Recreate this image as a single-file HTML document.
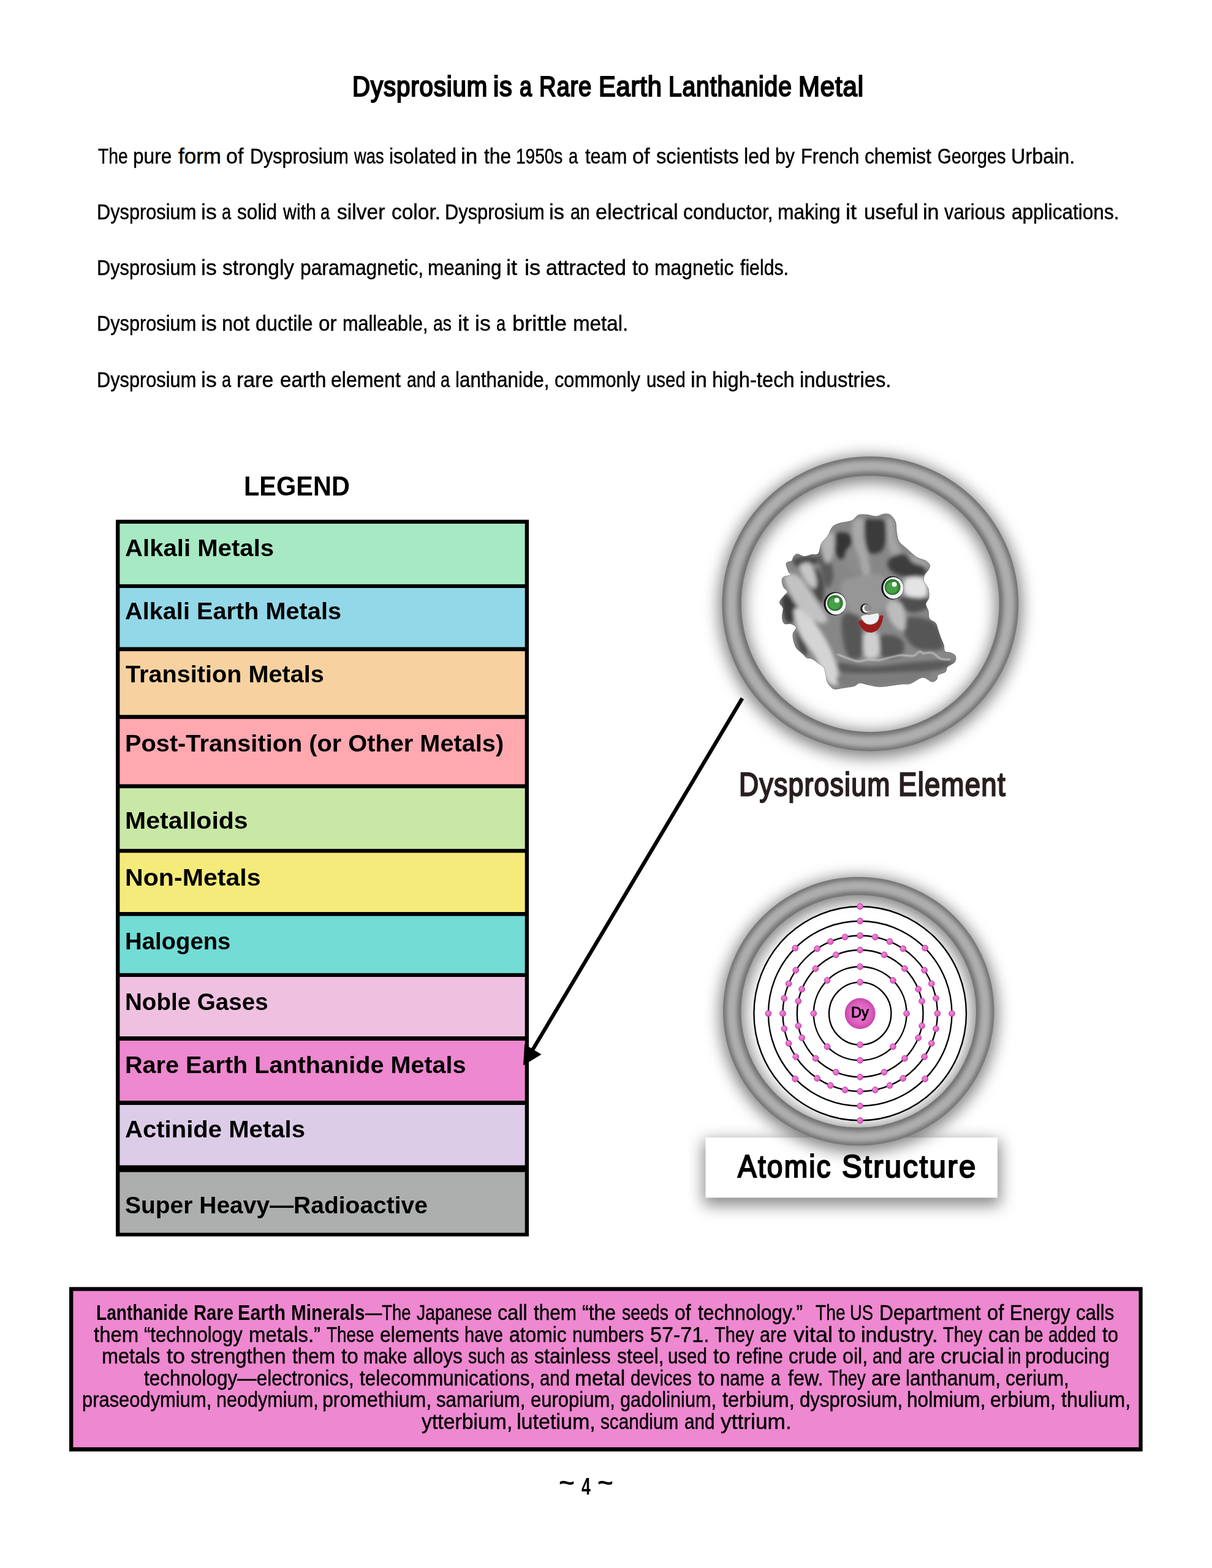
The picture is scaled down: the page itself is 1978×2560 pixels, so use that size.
<!DOCTYPE html>
<html lang="en">
<head>
<meta charset="utf-8">
<title>Dysprosium is a Rare Earth Lanthanide Metal</title>
<style>
html,body{margin:0;padding:0;background:#fff}
body{width:1978px;height:2560px;position:relative;overflow:hidden;font-family:"Liberation Sans", sans-serif;color:#000}
svg.g{position:absolute;left:0;top:0}
.t,.ln{position:absolute;margin:0;white-space:nowrap;line-height:1;font-weight:400}
.t{transform-origin:0 0}
.ln{left:0;width:1978px;height:1em}
.ln span{position:absolute;top:0;transform-origin:0 0}
</style>
</head>
<body>
<svg class="g" width="1978" height="2560" viewBox="0 0 1978 2560">
<rect x="189.0" y="848.6" width="674.1" height="1170.0" fill="#000"/>
<rect x="195.4" y="855.0" width="661.3" height="98.9" fill="#a6e9c3"/>
<rect x="195.4" y="960.0" width="661.3" height="96.5" fill="#93d8e8"/>
<rect x="195.4" y="1063.2" width="661.3" height="104.0" fill="#f7d2a0"/>
<rect x="195.4" y="1173.8" width="661.3" height="106.6" fill="#ffa8b0"/>
<rect x="195.4" y="1287.0" width="661.3" height="98.9" fill="#c9e8a6"/>
<rect x="195.4" y="1392.3" width="661.3" height="96.7" fill="#f5eb7a"/>
<rect x="195.4" y="1495.5" width="661.3" height="93.3" fill="#72dcd5"/>
<rect x="195.4" y="1595.0" width="661.3" height="97.0" fill="#efc0e0"/>
<rect x="195.4" y="1699.0" width="661.3" height="98.0" fill="#ee88d0"/>
<rect x="195.4" y="1804.0" width="661.3" height="98.5" fill="#ddcce8"/>
<rect x="195.4" y="1913.6" width="661.3" height="99.1" fill="#adafae"/>
<rect x="113" y="2101.3" width="1751.7" height="268.4" fill="#000"/>
<rect x="119.4" y="2107.7" width="1739.1" height="255.2" fill="#ee88d0"/>
<defs>
<filter id="b16" x="-30%" y="-30%" width="160%" height="160%"><feGaussianBlur stdDeviation="13"/></filter>
<filter id="b4" x="-30%" y="-30%" width="160%" height="160%"><feGaussianBlur stdDeviation="3.6"/></filter>
<filter id="rb" x="-10%" y="-10%" width="120%" height="120%"><feGaussianBlur stdDeviation="4"/></filter>
<filter id="rblob" x="-20%" y="-20%" width="140%" height="140%"><feGaussianBlur stdDeviation="3.2"/></filter>
<filter id="b1" x="-20%" y="-50%" width="140%" height="200%"><feGaussianBlur stdDeviation="0.8"/></filter>
<filter id="bs" x="-20%" y="-60%" width="140%" height="220%"><feGaussianBlur stdDeviation="13"/></filter>
<radialGradient id="eg" cx="40%" cy="35%" r="70%"><stop offset="0" stop-color="#f58ade"/><stop offset="1" stop-color="#d452b8"/></radialGradient>
<radialGradient id="ng" cx="50%" cy="50%" r="50%"><stop offset="0" stop-color="#ee7fd2"/><stop offset="0.7" stop-color="#dd60c0"/><stop offset="1" stop-color="#c845aa"/></radialGradient>
</defs>
<line x1="1211.4" y1="1140.2" x2="868" y2="1716" stroke="#000" stroke-width="6.2"/>
<polygon points="853.9,1739.6 883.6,1721.4 856.1,1704.8" fill="#000"/>
<ellipse cx="1420.3" cy="990.9" rx="226.2" ry="224.8" fill="none" stroke="#000" stroke-opacity="0.5" stroke-width="41.5" filter="url(#b16)"/>
<ellipse cx="1420.3" cy="985.9" rx="226.2" ry="224.8" fill="none" stroke="#727272" stroke-width="31.5"/>
<ellipse cx="1420.3" cy="985.9" rx="226.8" ry="225.3" fill="none" stroke="#aeaeae" stroke-width="18.9" filter="url(#b4)"/>
<clipPath id="rc"><path d="M1401.0 841.0C1396.8 842.6 1395.0 848.0 1390.0 850.2C1385.0 852.4 1376.0 852.5 1370.8 854.2C1365.6 855.9 1362.1 856.7 1358.8 860.2C1355.5 863.7 1353.7 870.8 1350.7 875.3C1347.7 879.8 1343.1 882.7 1340.6 887.4C1338.1 892.1 1338.3 900.6 1335.6 903.6C1332.9 906.6 1328.4 904.8 1324.5 905.6C1320.6 906.4 1316.3 908.8 1312.4 908.6C1308.5 908.4 1304.2 904.6 1301.3 904.6C1298.4 904.6 1296.8 906.8 1295.3 908.6C1293.8 910.5 1294.2 913.9 1292.2 915.7C1290.2 917.6 1284.0 916.7 1283.2 919.7C1282.4 922.7 1286.0 930.6 1287.2 933.8C1288.4 937.0 1291.6 937.4 1290.2 938.8C1288.8 940.1 1281.4 940.4 1279.1 941.9C1276.8 943.4 1276.1 945.0 1276.1 947.9C1276.1 950.8 1277.6 956.0 1279.1 959.0C1280.6 962.0 1285.0 963.8 1285.2 966.0C1285.4 968.2 1282.2 969.6 1280.2 972.1C1278.2 974.6 1274.3 978.9 1273.1 981.2C1271.9 983.5 1272.3 984.0 1273.1 986.0C1273.9 988.0 1277.5 989.4 1278.1 993.1C1278.7 996.8 1276.2 1004.0 1276.6 1008.2C1276.9 1012.4 1277.9 1016.6 1280.2 1018.3C1282.5 1020.0 1287.0 1017.3 1290.2 1018.3C1293.4 1019.3 1298.6 1021.6 1299.3 1024.3C1300.0 1027.0 1295.0 1030.7 1294.3 1034.4C1293.6 1038.1 1294.3 1042.5 1295.3 1046.5C1296.3 1050.5 1297.8 1055.1 1300.3 1058.6C1302.8 1062.1 1307.7 1065.2 1310.4 1067.7C1313.1 1070.2 1313.9 1072.4 1316.4 1073.7C1318.9 1075.0 1322.3 1074.2 1325.5 1075.7C1328.7 1077.2 1332.4 1080.5 1335.6 1082.8C1338.8 1085.1 1342.6 1086.8 1344.6 1089.8C1346.6 1092.8 1346.8 1097.2 1347.7 1100.9C1348.6 1104.6 1348.4 1108.6 1349.7 1112.0C1351.0 1115.4 1353.5 1118.9 1355.7 1121.1C1357.9 1123.3 1359.4 1124.8 1362.8 1125.1C1366.2 1125.4 1370.7 1123.9 1375.9 1123.1C1381.1 1122.3 1389.5 1121.4 1394.0 1120.1C1398.5 1118.8 1399.2 1115.3 1403.1 1115.0C1407.0 1114.7 1411.5 1117.1 1417.2 1118.1C1422.9 1119.1 1428.3 1121.3 1437.2 1121.1C1446.1 1120.9 1462.4 1117.8 1470.5 1117.0C1478.6 1116.2 1479.7 1117.8 1485.6 1116.0C1491.5 1114.2 1499.8 1106.5 1505.7 1106.0C1511.6 1105.5 1516.9 1112.5 1520.8 1113.0C1524.7 1113.5 1527.2 1110.8 1528.9 1109.0C1530.6 1107.2 1528.6 1103.9 1530.9 1101.9C1533.2 1099.9 1540.5 1099.1 1543.0 1096.9C1545.5 1094.7 1543.5 1091.5 1546.0 1088.8C1548.5 1086.1 1555.9 1083.8 1558.1 1080.8C1560.3 1077.8 1560.3 1073.2 1559.1 1070.7C1557.9 1068.2 1553.9 1066.9 1551.1 1065.7C1548.2 1064.5 1543.8 1065.8 1542.0 1063.6C1540.2 1061.4 1541.2 1056.4 1540.0 1052.6C1538.8 1048.8 1536.5 1044.5 1535.0 1040.5C1533.5 1036.5 1532.2 1032.3 1530.9 1028.4C1529.6 1024.5 1529.2 1020.3 1526.9 1017.3C1524.6 1014.3 1518.8 1013.6 1516.8 1010.2C1514.8 1006.8 1515.8 1001.1 1514.8 997.1C1513.8 993.1 1510.6 989.5 1510.8 986.0C1511.0 982.5 1515.1 980.3 1515.8 976.1C1516.5 971.9 1516.1 965.5 1514.8 961.0C1513.5 956.5 1508.7 952.6 1507.7 948.9C1506.7 945.2 1507.6 941.8 1508.8 938.8C1510.0 935.8 1513.4 933.5 1514.8 930.8C1516.2 928.1 1518.0 925.2 1517.3 922.7C1516.6 920.2 1514.4 917.9 1510.8 915.7C1507.2 913.5 1500.8 912.8 1495.7 909.6C1490.7 906.4 1485.2 900.7 1480.5 896.5C1475.8 892.3 1470.2 888.8 1467.4 884.4C1464.6 880.0 1464.4 875.7 1463.4 870.3C1462.4 864.9 1463.1 857.1 1461.4 852.2C1459.7 847.3 1456.3 843.3 1453.3 841.1C1450.3 838.9 1447.1 838.8 1443.3 839.1C1439.5 839.4 1434.9 842.9 1430.2 843.1C1425.5 843.3 1419.9 840.9 1415.0 840.5C1410.1 840.1 1405.2 839.4 1401.0 841.0Z"/></clipPath>
<path d="M1401.0 841.0C1396.8 842.6 1395.0 848.0 1390.0 850.2C1385.0 852.4 1376.0 852.5 1370.8 854.2C1365.6 855.9 1362.1 856.7 1358.8 860.2C1355.5 863.7 1353.7 870.8 1350.7 875.3C1347.7 879.8 1343.1 882.7 1340.6 887.4C1338.1 892.1 1338.3 900.6 1335.6 903.6C1332.9 906.6 1328.4 904.8 1324.5 905.6C1320.6 906.4 1316.3 908.8 1312.4 908.6C1308.5 908.4 1304.2 904.6 1301.3 904.6C1298.4 904.6 1296.8 906.8 1295.3 908.6C1293.8 910.5 1294.2 913.9 1292.2 915.7C1290.2 917.6 1284.0 916.7 1283.2 919.7C1282.4 922.7 1286.0 930.6 1287.2 933.8C1288.4 937.0 1291.6 937.4 1290.2 938.8C1288.8 940.1 1281.4 940.4 1279.1 941.9C1276.8 943.4 1276.1 945.0 1276.1 947.9C1276.1 950.8 1277.6 956.0 1279.1 959.0C1280.6 962.0 1285.0 963.8 1285.2 966.0C1285.4 968.2 1282.2 969.6 1280.2 972.1C1278.2 974.6 1274.3 978.9 1273.1 981.2C1271.9 983.5 1272.3 984.0 1273.1 986.0C1273.9 988.0 1277.5 989.4 1278.1 993.1C1278.7 996.8 1276.2 1004.0 1276.6 1008.2C1276.9 1012.4 1277.9 1016.6 1280.2 1018.3C1282.5 1020.0 1287.0 1017.3 1290.2 1018.3C1293.4 1019.3 1298.6 1021.6 1299.3 1024.3C1300.0 1027.0 1295.0 1030.7 1294.3 1034.4C1293.6 1038.1 1294.3 1042.5 1295.3 1046.5C1296.3 1050.5 1297.8 1055.1 1300.3 1058.6C1302.8 1062.1 1307.7 1065.2 1310.4 1067.7C1313.1 1070.2 1313.9 1072.4 1316.4 1073.7C1318.9 1075.0 1322.3 1074.2 1325.5 1075.7C1328.7 1077.2 1332.4 1080.5 1335.6 1082.8C1338.8 1085.1 1342.6 1086.8 1344.6 1089.8C1346.6 1092.8 1346.8 1097.2 1347.7 1100.9C1348.6 1104.6 1348.4 1108.6 1349.7 1112.0C1351.0 1115.4 1353.5 1118.9 1355.7 1121.1C1357.9 1123.3 1359.4 1124.8 1362.8 1125.1C1366.2 1125.4 1370.7 1123.9 1375.9 1123.1C1381.1 1122.3 1389.5 1121.4 1394.0 1120.1C1398.5 1118.8 1399.2 1115.3 1403.1 1115.0C1407.0 1114.7 1411.5 1117.1 1417.2 1118.1C1422.9 1119.1 1428.3 1121.3 1437.2 1121.1C1446.1 1120.9 1462.4 1117.8 1470.5 1117.0C1478.6 1116.2 1479.7 1117.8 1485.6 1116.0C1491.5 1114.2 1499.8 1106.5 1505.7 1106.0C1511.6 1105.5 1516.9 1112.5 1520.8 1113.0C1524.7 1113.5 1527.2 1110.8 1528.9 1109.0C1530.6 1107.2 1528.6 1103.9 1530.9 1101.9C1533.2 1099.9 1540.5 1099.1 1543.0 1096.9C1545.5 1094.7 1543.5 1091.5 1546.0 1088.8C1548.5 1086.1 1555.9 1083.8 1558.1 1080.8C1560.3 1077.8 1560.3 1073.2 1559.1 1070.7C1557.9 1068.2 1553.9 1066.9 1551.1 1065.7C1548.2 1064.5 1543.8 1065.8 1542.0 1063.6C1540.2 1061.4 1541.2 1056.4 1540.0 1052.6C1538.8 1048.8 1536.5 1044.5 1535.0 1040.5C1533.5 1036.5 1532.2 1032.3 1530.9 1028.4C1529.6 1024.5 1529.2 1020.3 1526.9 1017.3C1524.6 1014.3 1518.8 1013.6 1516.8 1010.2C1514.8 1006.8 1515.8 1001.1 1514.8 997.1C1513.8 993.1 1510.6 989.5 1510.8 986.0C1511.0 982.5 1515.1 980.3 1515.8 976.1C1516.5 971.9 1516.1 965.5 1514.8 961.0C1513.5 956.5 1508.7 952.6 1507.7 948.9C1506.7 945.2 1507.6 941.8 1508.8 938.8C1510.0 935.8 1513.4 933.5 1514.8 930.8C1516.2 928.1 1518.0 925.2 1517.3 922.7C1516.6 920.2 1514.4 917.9 1510.8 915.7C1507.2 913.5 1500.8 912.8 1495.7 909.6C1490.7 906.4 1485.2 900.7 1480.5 896.5C1475.8 892.3 1470.2 888.8 1467.4 884.4C1464.6 880.0 1464.4 875.7 1463.4 870.3C1462.4 864.9 1463.1 857.1 1461.4 852.2C1459.7 847.3 1456.3 843.3 1453.3 841.1C1450.3 838.9 1447.1 838.8 1443.3 839.1C1439.5 839.4 1434.9 842.9 1430.2 843.1C1425.5 843.3 1419.9 840.9 1415.0 840.5C1410.1 840.1 1405.2 839.4 1401.0 841.0Z" fill="#878787" stroke="#6e6e6e" stroke-width="1"/>
<g clip-path="url(#rc)"><g filter="url(#rblob)">
<path d="M1366.0 870.0C1370.2 867.7 1382.0 869.3 1386.0 872.0C1390.0 874.7 1390.8 881.3 1390.0 886.0C1389.2 890.7 1382.8 896.0 1381.0 900.0C1379.2 904.0 1380.7 907.8 1379.0 910.0C1377.3 912.2 1373.7 914.3 1371.0 913.0C1368.3 911.7 1364.7 906.5 1363.0 902.0C1361.3 897.5 1360.5 891.3 1361.0 886.0C1361.5 880.7 1361.8 872.3 1366.0 870.0Z" fill="#363636"/>
<path d="M1412.0 850.0C1415.0 844.7 1422.5 847.7 1428.0 848.0C1433.5 848.3 1442.0 846.7 1445.0 852.0C1448.0 857.3 1446.8 872.3 1446.0 880.0C1445.2 887.7 1443.0 894.0 1440.0 898.0C1437.0 902.0 1432.0 903.7 1428.0 904.0C1424.0 904.3 1419.0 904.0 1416.0 900.0C1413.0 896.0 1410.7 888.3 1410.0 880.0C1409.3 871.7 1409.0 855.3 1412.0 850.0Z" fill="#3a3a3a"/>
<path d="M1450.0 915.0C1453.0 910.8 1461.7 904.5 1470.0 905.0C1478.3 905.5 1493.0 913.0 1500.0 918.0C1507.0 923.0 1512.0 931.0 1512.0 935.0C1512.0 939.0 1507.0 941.2 1500.0 942.0C1493.0 942.8 1478.0 942.0 1470.0 940.0C1462.0 938.0 1455.3 934.2 1452.0 930.0C1448.7 925.8 1447.0 919.2 1450.0 915.0Z" fill="#3c3c3c"/>
<path d="M1470.0 975.0C1477.0 972.5 1504.7 972.2 1512.0 975.0C1519.3 977.8 1517.7 987.8 1514.0 992.0C1510.3 996.2 1497.3 1000.3 1490.0 1000.0C1482.7 999.7 1473.3 994.2 1470.0 990.0C1466.7 985.8 1463.0 977.5 1470.0 975.0Z" fill="#505050"/>
<path d="M1475.0 1012.0C1478.7 1006.7 1491.2 1006.7 1500.0 1008.0C1508.8 1009.3 1521.3 1012.2 1528.0 1020.0C1534.7 1027.8 1541.3 1048.0 1540.0 1055.0C1538.7 1062.0 1527.5 1061.5 1520.0 1062.0C1512.5 1062.5 1502.0 1061.7 1495.0 1058.0C1488.0 1054.3 1481.3 1047.7 1478.0 1040.0C1474.7 1032.3 1471.3 1017.3 1475.0 1012.0Z" fill="#565656"/>
<path d="M1435.0 1040.0C1438.3 1034.3 1453.3 1036.3 1460.0 1038.0C1466.7 1039.7 1473.3 1044.7 1475.0 1050.0C1476.7 1055.3 1475.8 1066.3 1470.0 1070.0C1464.2 1073.7 1445.8 1077.0 1440.0 1072.0C1434.2 1067.0 1431.7 1045.7 1435.0 1040.0Z" fill="#555555"/>
<path d="M1376.0 1005.0C1380.2 999.2 1394.7 999.2 1400.0 1005.0C1405.3 1010.8 1407.2 1028.8 1408.0 1040.0C1408.8 1051.2 1408.8 1066.7 1405.0 1072.0C1401.2 1077.3 1390.0 1077.3 1385.0 1072.0C1380.0 1066.7 1376.5 1051.2 1375.0 1040.0C1373.5 1028.8 1371.8 1010.8 1376.0 1005.0Z" fill="#565656"/>
<path d="M1285.0 985.0C1285.0 980.8 1292.5 980.0 1300.0 985.0C1307.5 990.0 1323.7 1006.7 1330.0 1015.0C1336.3 1023.3 1338.8 1032.5 1338.0 1035.0C1337.2 1037.5 1331.3 1034.2 1325.0 1030.0C1318.7 1025.8 1306.7 1017.5 1300.0 1010.0C1293.3 1002.5 1285.0 989.2 1285.0 985.0Z" fill="#3e3e3e"/>
<path d="M1276.0 975.0C1277.7 968.5 1288.7 968.8 1292.0 975.0C1295.3 981.2 1297.7 1005.5 1296.0 1012.0C1294.3 1018.5 1285.3 1020.2 1282.0 1014.0C1278.7 1007.8 1274.3 981.5 1276.0 975.0Z" fill="#3a3a3a"/>
<path d="M1300.0 1030.0C1301.2 1026.3 1309.0 1033.7 1312.0 1040.0C1315.0 1046.3 1319.2 1064.3 1318.0 1068.0C1316.8 1071.7 1308.0 1068.3 1305.0 1062.0C1302.0 1055.7 1298.8 1033.7 1300.0 1030.0Z" fill="#4a4a4a"/>
<path d="M1368.0 1082.0C1376.3 1080.7 1401.3 1088.0 1420.0 1088.0C1438.7 1088.0 1460.0 1083.7 1480.0 1082.0C1500.0 1080.3 1527.3 1078.0 1540.0 1078.0C1552.7 1078.0 1557.7 1079.3 1556.0 1082.0C1554.3 1084.7 1544.3 1091.3 1530.0 1094.0C1515.7 1096.7 1491.7 1097.0 1470.0 1098.0C1448.3 1099.0 1416.7 1100.3 1400.0 1100.0C1383.3 1099.7 1375.3 1099.0 1370.0 1096.0C1364.7 1093.0 1359.7 1083.3 1368.0 1082.0Z" fill="#5a5a5a"/>
<path d="M1296.0 912.0C1300.2 909.2 1318.0 907.5 1325.0 908.0C1332.0 908.5 1338.8 912.2 1338.0 915.0C1337.2 917.8 1326.3 923.3 1320.0 925.0C1313.7 926.7 1304.0 927.2 1300.0 925.0C1296.0 922.8 1291.8 914.8 1296.0 912.0Z" fill="#4a4a4a"/>
<path d="M1318.0 935.0C1319.7 930.0 1330.5 925.8 1335.0 930.0C1339.5 934.2 1344.2 950.8 1345.0 960.0C1345.8 969.2 1343.3 985.0 1340.0 985.0C1336.7 985.0 1328.7 968.3 1325.0 960.0C1321.3 951.7 1316.3 940.0 1318.0 935.0Z" fill="#484848"/>
<path d="M1335.0 895.0C1336.7 890.0 1345.8 892.5 1350.0 900.0C1354.2 907.5 1360.0 930.0 1360.0 940.0C1360.0 950.0 1353.3 961.7 1350.0 960.0C1346.7 958.3 1342.5 940.8 1340.0 930.0C1337.5 919.2 1333.3 900.0 1335.0 895.0Z" fill="#5a5a5a"/>
<path d="M1296.0 996.0C1297.7 990.0 1308.0 993.0 1316.0 1000.0C1324.0 1007.0 1336.0 1024.3 1344.0 1038.0C1352.0 1051.7 1360.0 1069.0 1364.0 1082.0C1368.0 1095.0 1370.3 1111.0 1368.0 1116.0C1365.7 1121.0 1356.3 1119.3 1350.0 1112.0C1343.7 1104.7 1337.3 1084.7 1330.0 1072.0C1322.7 1059.3 1311.7 1048.7 1306.0 1036.0C1300.3 1023.3 1294.3 1002.0 1296.0 996.0Z" fill="#d4d4d4"/>
<path d="M1280.0 943.0C1280.0 934.7 1294.3 935.2 1302.0 940.0C1309.7 944.8 1318.0 960.3 1326.0 972.0C1334.0 983.7 1348.7 1002.7 1350.0 1010.0C1351.3 1017.3 1342.0 1019.3 1334.0 1016.0C1326.0 1012.7 1311.0 1002.2 1302.0 990.0C1293.0 977.8 1280.0 951.3 1280.0 943.0Z" fill="#c2c2c2"/>
<path d="M1305.0 925.0C1306.0 920.0 1317.5 916.7 1322.0 920.0C1326.5 923.3 1330.7 938.3 1332.0 945.0C1333.3 951.7 1332.7 959.2 1330.0 960.0C1327.3 960.8 1320.2 955.8 1316.0 950.0C1311.8 944.2 1304.0 930.0 1305.0 925.0Z" fill="#c6c6c6"/>
<path d="M1340.0 885.0C1341.7 879.2 1348.3 871.7 1352.0 870.0C1355.7 868.3 1360.7 869.2 1362.0 875.0C1363.3 880.8 1362.0 897.5 1360.0 905.0C1358.0 912.5 1353.0 920.0 1350.0 920.0C1347.0 920.0 1343.7 910.8 1342.0 905.0C1340.3 899.2 1338.3 890.8 1340.0 885.0Z" fill="#b4b4b4"/>
<path d="M1392.0 852.0C1394.7 846.7 1404.8 843.3 1408.0 848.0C1411.2 852.7 1409.7 870.5 1411.0 880.0C1412.3 889.5 1414.5 895.8 1416.0 905.0C1417.5 914.2 1421.0 929.2 1420.0 935.0C1419.0 940.8 1413.3 944.2 1410.0 940.0C1406.7 935.8 1403.0 920.0 1400.0 910.0C1397.0 900.0 1393.3 889.7 1392.0 880.0C1390.7 870.3 1389.3 857.3 1392.0 852.0Z" fill="#a8a8a8"/>
<path d="M1380.0 905.0C1382.0 900.0 1390.8 891.7 1395.0 895.0C1399.2 898.3 1405.0 918.3 1405.0 925.0C1405.0 931.7 1398.7 935.0 1395.0 935.0C1391.3 935.0 1385.5 930.0 1383.0 925.0C1380.5 920.0 1378.0 910.0 1380.0 905.0Z" fill="#8c8c8c"/>
<path d="M1447.0 848.0C1448.7 843.0 1455.5 844.7 1458.0 850.0C1460.5 855.3 1460.0 871.7 1462.0 880.0C1464.0 888.3 1471.2 895.8 1470.0 900.0C1468.8 904.2 1458.7 908.3 1455.0 905.0C1451.3 901.7 1449.3 889.5 1448.0 880.0C1446.7 870.5 1445.3 853.0 1447.0 848.0Z" fill="#a4a4a4"/>
<path d="M1478.0 945.0C1483.3 941.2 1502.3 940.5 1508.0 945.0C1513.7 949.5 1515.0 967.0 1512.0 972.0C1509.0 977.0 1496.0 975.7 1490.0 975.0C1484.0 974.3 1478.0 973.0 1476.0 968.0C1474.0 963.0 1472.7 948.8 1478.0 945.0Z" fill="#e4e4e4"/>
<path d="M1411.0 1034.0C1414.3 1027.7 1428.2 1028.0 1432.0 1034.0C1435.8 1040.0 1437.3 1063.7 1434.0 1070.0C1430.7 1076.3 1415.8 1078.0 1412.0 1072.0C1408.2 1066.0 1407.7 1040.3 1411.0 1034.0Z" fill="#cfcfcf"/>
<path d="M1446.0 982.0C1449.7 979.5 1464.7 980.3 1470.0 985.0C1475.3 989.7 1477.3 1002.5 1478.0 1010.0C1478.7 1017.5 1477.3 1028.3 1474.0 1030.0C1470.7 1031.7 1462.3 1025.0 1458.0 1020.0C1453.7 1015.0 1450.0 1006.3 1448.0 1000.0C1446.0 993.7 1442.3 984.5 1446.0 982.0Z" fill="#bcbcbc"/>
<path d="M1485.0 905.0C1488.7 905.0 1506.8 914.7 1512.0 918.0C1517.2 921.3 1519.7 925.0 1516.0 925.0C1512.3 925.0 1495.2 921.3 1490.0 918.0C1484.8 914.7 1481.3 905.0 1485.0 905.0Z" fill="#a6a6a6"/>
<path d="M1376.0 950.0C1385.7 942.0 1428.0 933.3 1440.0 940.0C1452.0 946.7 1454.7 979.3 1448.0 990.0C1441.3 1000.7 1411.0 1004.3 1400.0 1004.0C1389.0 1003.7 1386.0 997.0 1382.0 988.0C1378.0 979.0 1366.3 958.0 1376.0 950.0Z" fill="#969696"/>
<path d="M1370.0 1102.0C1377.5 1099.3 1401.7 1104.3 1420.0 1104.0C1438.3 1103.7 1463.3 1101.0 1480.0 1100.0C1496.7 1099.0 1516.7 1096.0 1520.0 1098.0C1523.3 1100.0 1513.3 1108.7 1500.0 1112.0C1486.7 1115.3 1460.8 1116.7 1440.0 1118.0C1419.2 1119.3 1386.7 1122.7 1375.0 1120.0C1363.3 1117.3 1362.5 1104.7 1370.0 1102.0Z" fill="#7c7c7c"/>
</g>
<path d="M1366.0 1068.0C1369.3 1069.3 1380.2 1073.7 1386.0 1075.7C1391.8 1077.7 1395.8 1079.6 1401.0 1079.8C1406.2 1080.0 1411.5 1077.0 1417.2 1076.7C1422.9 1076.4 1428.9 1078.4 1435.2 1077.7C1441.5 1077.0 1449.4 1074.0 1455.3 1072.7C1461.2 1071.4 1464.6 1070.0 1470.5 1069.7C1476.4 1069.4 1485.6 1071.7 1490.6 1070.7C1495.6 1069.7 1498.0 1064.3 1500.7 1063.6C1503.4 1062.9 1503.4 1066.3 1506.7 1066.7C1510.0 1067.1 1515.9 1064.2 1520.8 1065.7C1525.7 1067.2 1531.0 1073.9 1536.0 1075.7C1541.0 1077.5 1548.5 1076.5 1551.0 1076.7" fill="none" stroke="#c4c4c4" stroke-width="2.4" filter="url(#b1)"/>
</g>
<ellipse cx="1362.8" cy="985.7" rx="18.4" ry="19" fill="#111"/>
<ellipse cx="1364.2" cy="985.9" rx="16.6" ry="17.6" fill="#f4f4f8"/>
<circle cx="1362.8" cy="984.5" r="13" fill="#327c32"/>
<circle cx="1362.2" cy="985.3" r="9.6" fill="#46a046"/>
<circle cx="1365.8" cy="979.9" r="4" fill="#fff"/>
<ellipse cx="1456.6" cy="959.7" rx="18.4" ry="19" fill="#111"/>
<ellipse cx="1458.0" cy="959.9" rx="16.6" ry="17.6" fill="#f4f4f8"/>
<circle cx="1456.6" cy="958.5" r="13" fill="#327c32"/>
<circle cx="1456.0" cy="959.3" r="9.6" fill="#46a046"/>
<circle cx="1459.6" cy="953.9" r="4" fill="#fff"/>
<circle cx="1412.2" cy="993.6" r="8.2" fill="#222"/><circle cx="1414" cy="993.6" r="6.8" fill="#ececec"/><circle cx="1416.6" cy="992.6" r="6" fill="#8c8c8c"/>
<path d="M1405 1007 Q1410 1003 1418 1004 L1433 1001 Q1436 1006 1432 1014 Q1425 1021 1416 1019 Q1408 1016 1405 1007Z" fill="#eef1f4"/>
<path d="M1400.5 1015.5 Q1409 1035 1424 1032.5 Q1439 1029 1441.5 1005.5 Q1439 1003.5 1435.5 1006 Q1433.5 1019 1421.5 1020 Q1412 1020.5 1407.5 1012.5 Q1403 1012 1400.5 1015.5 Z" fill="#9e1b1b"/>
<rect x="1148" y="1862" width="484" height="106" fill="#000" fill-opacity="0.46" filter="url(#bs)"/>
<rect x="1151.5" y="1857.2" width="476.4" height="98.2" fill="#fff"/>
<ellipse cx="1401.25" cy="1656.05" rx="206.5" ry="204.5" fill="none" stroke="#000" stroke-opacity="0.5" stroke-width="39.5" filter="url(#b16)"/>
<ellipse cx="1401.25" cy="1651.05" rx="206.5" ry="204.5" fill="none" stroke="#727272" stroke-width="29.5"/>
<ellipse cx="1401.25" cy="1651.05" rx="207.0" ry="205.0" fill="none" stroke="#aeaeae" stroke-width="17.7" filter="url(#b4)"/>
<g transform="translate(1403.7 1654.7) scale(0.992 1) translate(-1403.7 -1654.7)">
<circle cx="1403.7" cy="1654.7" r="175.5" fill="#fff" fill-opacity="0.9"/>
<g fill="none" stroke="#000" stroke-width="2.4">
<circle cx="1403.7" cy="1654.7" r="51.1"/>
<circle cx="1403.7" cy="1654.7" r="76.5"/>
<circle cx="1403.7" cy="1654.7" r="103.7"/>
<circle cx="1403.7" cy="1654.7" r="127.2"/>
<circle cx="1403.7" cy="1654.7" r="151.0"/>
<circle cx="1403.7" cy="1654.7" r="174.7"/>
</g>
<g fill="url(#eg)" stroke="#b4409c" stroke-width="1"><circle cx="1403.7" cy="1603.6" r="4.9"/><circle cx="1403.7" cy="1705.8" r="4.9"/><circle cx="1403.7" cy="1578.2" r="4.9"/><circle cx="1457.8" cy="1600.6" r="4.9"/><circle cx="1480.2" cy="1654.7" r="4.9"/><circle cx="1457.8" cy="1708.8" r="4.9"/><circle cx="1403.7" cy="1731.2" r="4.9"/><circle cx="1349.6" cy="1708.8" r="4.9"/><circle cx="1327.2" cy="1654.7" r="4.9"/><circle cx="1349.6" cy="1600.6" r="4.9"/><circle cx="1403.7" cy="1551.0" r="4.9"/><circle cx="1403.7" cy="1758.4" r="4.9"/><circle cx="1443.4" cy="1558.9" r="4.9"/><circle cx="1477.0" cy="1581.4" r="4.9"/><circle cx="1499.5" cy="1615.0" r="4.9"/><circle cx="1505.4" cy="1634.5" r="4.9"/><circle cx="1505.4" cy="1674.9" r="4.9"/><circle cx="1499.5" cy="1694.4" r="4.9"/><circle cx="1477.0" cy="1728.0" r="4.9"/><circle cx="1443.4" cy="1750.5" r="4.9"/><circle cx="1364.0" cy="1558.9" r="4.9"/><circle cx="1330.4" cy="1581.4" r="4.9"/><circle cx="1307.9" cy="1615.0" r="4.9"/><circle cx="1302.0" cy="1634.5" r="4.9"/><circle cx="1302.0" cy="1674.9" r="4.9"/><circle cx="1307.9" cy="1694.4" r="4.9"/><circle cx="1330.4" cy="1728.0" r="4.9"/><circle cx="1364.0" cy="1750.5" r="4.9"/><circle cx="1333.0" cy="1548.9" r="4.9"/><circle cx="1355.0" cy="1537.2" r="4.9"/><circle cx="1378.9" cy="1529.9" r="4.9"/><circle cx="1403.7" cy="1527.5" r="4.9"/><circle cx="1428.5" cy="1529.9" r="4.9"/><circle cx="1452.4" cy="1537.2" r="4.9"/><circle cx="1474.4" cy="1548.9" r="4.9"/><circle cx="1509.5" cy="1584.0" r="4.9"/><circle cx="1521.2" cy="1606.0" r="4.9"/><circle cx="1528.5" cy="1629.9" r="4.9"/><circle cx="1530.9" cy="1654.7" r="4.9"/><circle cx="1528.5" cy="1679.5" r="4.9"/><circle cx="1521.2" cy="1703.4" r="4.9"/><circle cx="1509.5" cy="1725.4" r="4.9"/><circle cx="1474.4" cy="1760.5" r="4.9"/><circle cx="1452.4" cy="1772.2" r="4.9"/><circle cx="1428.5" cy="1779.5" r="4.9"/><circle cx="1403.7" cy="1781.9" r="4.9"/><circle cx="1378.9" cy="1779.5" r="4.9"/><circle cx="1355.0" cy="1772.2" r="4.9"/><circle cx="1333.0" cy="1760.5" r="4.9"/><circle cx="1297.9" cy="1725.4" r="4.9"/><circle cx="1286.2" cy="1703.4" r="4.9"/><circle cx="1278.9" cy="1679.5" r="4.9"/><circle cx="1276.5" cy="1654.7" r="4.9"/><circle cx="1278.9" cy="1629.9" r="4.9"/><circle cx="1286.2" cy="1606.0" r="4.9"/><circle cx="1297.9" cy="1584.0" r="4.9"/><circle cx="1403.7" cy="1503.7" r="4.9"/><circle cx="1510.5" cy="1547.9" r="4.9"/><circle cx="1554.7" cy="1654.7" r="4.9"/><circle cx="1510.5" cy="1761.5" r="4.9"/><circle cx="1403.7" cy="1805.7" r="4.9"/><circle cx="1296.9" cy="1761.5" r="4.9"/><circle cx="1252.7" cy="1654.7" r="4.9"/><circle cx="1296.9" cy="1547.9" r="4.9"/><circle cx="1403.7" cy="1480.0" r="4.9"/><circle cx="1403.7" cy="1829.4" r="4.9"/></g>
<circle cx="1403.7" cy="1654.7" r="25.2" fill="url(#ng)"/>
</g>
</svg>
<h1 class="ln" style="top:117.6px;font-size:46px"><span style="left:575.4px;transform:scaleX(0.8745);letter-spacing:1px;-webkit-text-stroke:2.2px #000">Dysprosium</span> <span style="left:805.4px;transform:scaleX(0.9003);letter-spacing:1px;-webkit-text-stroke:2.2px #000">is</span> <span style="left:848.1px;transform:scaleX(0.7800);letter-spacing:1px;-webkit-text-stroke:2.2px #000">a</span> <span style="left:880.2px;transform:scaleX(0.8293);letter-spacing:1px;-webkit-text-stroke:2.2px #000">Rare</span> <span style="left:977.0px;transform:scaleX(0.9029);letter-spacing:1px;-webkit-text-stroke:2.2px #000">Earth</span> <span style="left:1091.2px;transform:scaleX(0.8487);letter-spacing:1px;-webkit-text-stroke:2.2px #000">Lanthanide</span> <span style="left:1303.0px;transform:scaleX(0.9107);letter-spacing:1px;-webkit-text-stroke:2.2px #000">Metal</span></h1>
<p class="ln" style="top:236.6px;font-size:35px"><span style="left:160.2px;transform:scaleX(0.8068);-webkit-text-stroke:0.5px #000">The</span> <span style="left:217.0px;transform:scaleX(0.9030);-webkit-text-stroke:0.5px #000">pure</span> <span style="left:291.0px;transform:scaleX(1.0000);-webkit-text-stroke:0.5px #000">form</span> <span style="left:369.0px;transform:scaleX(0.9718);-webkit-text-stroke:0.5px #000">of</span> <span style="left:407.6px;transform:scaleX(0.8711);-webkit-text-stroke:0.5px #000">Dysprosium</span> <span style="left:577.6px;transform:scaleX(0.7800);-webkit-text-stroke:0.5px #000">was</span> <span style="left:634.8px;transform:scaleX(0.9120);-webkit-text-stroke:0.5px #000">isolated</span> <span style="left:752.4px;transform:scaleX(1.0048);-webkit-text-stroke:0.5px #000">in</span> <span style="left:790.2px;transform:scaleX(0.9085);-webkit-text-stroke:0.5px #000">the</span> <span style="left:841.8px;transform:scaleX(0.8011);-webkit-text-stroke:0.5px #000">1950s</span> <span style="left:927.8px;transform:scaleX(0.7800);-webkit-text-stroke:0.5px #000">a</span> <span style="left:954.8px;transform:scaleX(0.8763);-webkit-text-stroke:0.5px #000">team</span> <span style="left:1032.4px;transform:scaleX(0.9730);-webkit-text-stroke:0.5px #000">of</span> <span style="left:1071.0px;transform:scaleX(0.9352);-webkit-text-stroke:0.5px #000">scientists</span> <span style="left:1214.4px;transform:scaleX(0.9210);-webkit-text-stroke:0.5px #000">led</span> <span style="left:1265.2px;transform:scaleX(0.8657);-webkit-text-stroke:0.5px #000">by</span> <span style="left:1306.6px;transform:scaleX(0.8751);-webkit-text-stroke:0.5px #000">French</span> <span style="left:1410.6px;transform:scaleX(0.9017);-webkit-text-stroke:0.5px #000">chemist</span> <span style="left:1530.2px;transform:scaleX(0.8318);-webkit-text-stroke:0.5px #000">Georges</span> <span style="left:1649.6px;transform:scaleX(0.9250);-webkit-text-stroke:0.5px #000">Urbain.</span></p>
<p class="ln" style="top:327.9px;font-size:35px"><span style="left:158.2px;transform:scaleX(0.8783);-webkit-text-stroke:0.5px #000">Dysprosium</span> <span style="left:328.0px;transform:scaleX(1.0137);-webkit-text-stroke:0.5px #000">is</span> <span style="left:362.3px;transform:scaleX(0.7800);-webkit-text-stroke:0.5px #000">a</span> <span style="left:387.4px;transform:scaleX(0.9029);-webkit-text-stroke:0.5px #000">solid</span> <span style="left:461.8px;transform:scaleX(0.8667);-webkit-text-stroke:0.5px #000">with</span> <span style="left:523.4px;transform:scaleX(0.7800);-webkit-text-stroke:0.5px #000">a</span> <span style="left:550.2px;transform:scaleX(0.9601);-webkit-text-stroke:0.5px #000">silver</span> <span style="left:638.6px;transform:scaleX(0.9563);-webkit-text-stroke:0.5px #000">color.</span> <span style="left:725.6px;transform:scaleX(0.8811);-webkit-text-stroke:0.5px #000">Dysprosium</span> <span style="left:896.4px;transform:scaleX(0.9828);-webkit-text-stroke:0.5px #000">is</span> <span style="left:931.2px;transform:scaleX(0.8150);-webkit-text-stroke:0.5px #000">an</span> <span style="left:972.2px;transform:scaleX(0.9740);-webkit-text-stroke:0.5px #000">electrical</span> <span style="left:1115.2px;transform:scaleX(0.9083);-webkit-text-stroke:0.5px #000">conductor,</span> <span style="left:1269.0px;transform:scaleX(0.9083);-webkit-text-stroke:0.5px #000">making</span> <span style="left:1379.6px;transform:scaleX(1.0400);-webkit-text-stroke:0.5px #000">it</span> <span style="left:1409.6px;transform:scaleX(0.9495);-webkit-text-stroke:0.5px #000">useful</span> <span style="left:1505.6px;transform:scaleX(0.9696);-webkit-text-stroke:0.5px #000">in</span> <span style="left:1541.0px;transform:scaleX(0.8803);-webkit-text-stroke:0.5px #000">various</span> <span style="left:1650.6px;transform:scaleX(0.9016);-webkit-text-stroke:0.5px #000">applications.</span></p>
<p class="ln" style="top:419.2px;font-size:35px"><span style="left:158.2px;transform:scaleX(0.8783);-webkit-text-stroke:0.5px #000">Dysprosium</span> <span style="left:328.0px;transform:scaleX(1.0137);-webkit-text-stroke:0.5px #000">is</span> <span style="left:363.4px;transform:scaleX(0.9549);-webkit-text-stroke:0.5px #000">strongly</span> <span style="left:490.4px;transform:scaleX(0.9069);-webkit-text-stroke:0.5px #000">paramagnetic,</span> <span style="left:697.8px;transform:scaleX(0.8970);-webkit-text-stroke:0.5px #000">meaning</span> <span style="left:826.3px;transform:scaleX(1.0400);-webkit-text-stroke:0.5px #000">it</span> <span style="left:855.6px;transform:scaleX(1.0400);-webkit-text-stroke:0.5px #000">is</span> <span style="left:890.8px;transform:scaleX(0.9617);-webkit-text-stroke:0.5px #000">attracted</span> <span style="left:1032.0px;transform:scaleX(0.9179);-webkit-text-stroke:0.5px #000">to</span> <span style="left:1067.6px;transform:scaleX(0.9108);-webkit-text-stroke:0.5px #000">magnetic</span> <span style="left:1208.4px;transform:scaleX(0.8641);-webkit-text-stroke:0.5px #000">fields.</span></p>
<p class="ln" style="top:510.4px;font-size:35px"><span style="left:158.2px;transform:scaleX(0.8783);-webkit-text-stroke:0.5px #000">Dysprosium</span> <span style="left:328.0px;transform:scaleX(1.0137);-webkit-text-stroke:0.5px #000">is</span> <span style="left:362.4px;transform:scaleX(0.9302);-webkit-text-stroke:0.5px #000">not</span> <span style="left:417.0px;transform:scaleX(0.9243);-webkit-text-stroke:0.5px #000">ductile</span> <span style="left:520.0px;transform:scaleX(0.9503);-webkit-text-stroke:0.5px #000">or</span> <span style="left:559.0px;transform:scaleX(0.8741);-webkit-text-stroke:0.5px #000">malleable,</span> <span style="left:706.8px;transform:scaleX(0.8096);-webkit-text-stroke:0.5px #000">as</span> <span style="left:746.7px;transform:scaleX(1.0400);-webkit-text-stroke:0.5px #000">it</span> <span style="left:775.0px;transform:scaleX(1.0137);-webkit-text-stroke:0.5px #000">is</span> <span style="left:809.9px;transform:scaleX(0.7800);-webkit-text-stroke:0.5px #000">a</span> <span style="left:836.0px;transform:scaleX(1.0400);-webkit-text-stroke:0.5px #000">brittle</span> <span style="left:935.4px;transform:scaleX(0.9467);-webkit-text-stroke:0.5px #000">metal.</span></p>
<p class="ln" style="top:601.8px;font-size:35px"><span style="left:158.2px;transform:scaleX(0.8783);-webkit-text-stroke:0.5px #000">Dysprosium</span> <span style="left:328.0px;transform:scaleX(1.0137);-webkit-text-stroke:0.5px #000">is</span> <span style="left:362.3px;transform:scaleX(0.7800);-webkit-text-stroke:0.5px #000">a</span> <span style="left:386.4px;transform:scaleX(0.9729);-webkit-text-stroke:0.5px #000">rare</span> <span style="left:456.6px;transform:scaleX(0.9461);-webkit-text-stroke:0.5px #000">earth</span> <span style="left:539.8px;transform:scaleX(0.9138);-webkit-text-stroke:0.5px #000">element</span> <span style="left:664.0px;transform:scaleX(0.8092);-webkit-text-stroke:0.5px #000">and</span> <span style="left:719.2px;transform:scaleX(0.7800);-webkit-text-stroke:0.5px #000">a</span> <span style="left:743.0px;transform:scaleX(0.8964);-webkit-text-stroke:0.5px #000">lanthanide,</span> <span style="left:905.4px;transform:scaleX(0.8766);-webkit-text-stroke:0.5px #000">commonly</span> <span style="left:1055.4px;transform:scaleX(0.8403);-webkit-text-stroke:0.5px #000">used</span> <span style="left:1127.4px;transform:scaleX(0.9836);-webkit-text-stroke:0.5px #000">in</span> <span style="left:1162.2px;transform:scaleX(0.9357);-webkit-text-stroke:0.5px #000">high-tech</span> <span style="left:1305.2px;transform:scaleX(0.9370);-webkit-text-stroke:0.5px #000">industries.</span></p>
<h2 class="t" style="left:397.8px;top:771.6px;font-size:44px;transform:scaleX(0.9436);font-weight:700">LEGEND</h2>
<div class="t" style="left:204.4px;top:875.3px;font-size:39px;transform:scaleX(1.0292);font-weight:700">Alkali Metals</div>
<div class="t" style="left:204.4px;top:978.0px;font-size:39px;transform:scaleX(1.0180);font-weight:700">Alkali Earth Metals</div>
<div class="t" style="left:205.4px;top:1081.2px;font-size:39px;transform:scaleX(1.0164);font-weight:700">Transition Metals</div>
<div class="t" style="left:204.2px;top:1194.0px;font-size:39px;transform:scaleX(1.0189);font-weight:700">Post-Transition (or Other Metals)</div>
<div class="t" style="left:204.2px;top:1319.7px;font-size:39px;transform:scaleX(1.0524);font-weight:700">Metalloids</div>
<div class="t" style="left:204.2px;top:1413.4px;font-size:39px;transform:scaleX(1.0544);font-weight:700">Non-Metals</div>
<div class="t" style="left:204.2px;top:1516.5px;font-size:39px;transform:scaleX(0.9820);font-weight:700">Halogens</div>
<div class="t" style="left:204.2px;top:1615.8px;font-size:39px;transform:scaleX(0.9888);font-weight:700">Noble Gases</div>
<div class="t" style="left:204.2px;top:1719.4px;font-size:39px;transform:scaleX(1.0152);font-weight:700">Rare Earth Lanthanide Metals</div>
<div class="t" style="left:204.4px;top:1824.4px;font-size:39px;transform:scaleX(1.0276);font-weight:700">Actinide Metals</div>
<div class="t" style="left:204.4px;top:1947.7px;font-size:39px;transform:scaleX(0.9994);font-weight:700">Super Heavy—Radioactive</div>
<p class="ln" style="top:1253.4px;font-size:54px"><span style="left:1206.2px;transform:scaleX(0.8253);color:#2a1f20;letter-spacing:1.5px;-webkit-text-stroke:2.3px #2a1f20">Dysprosium</span> <span style="left:1466.2px;transform:scaleX(0.8430);color:#2a1f20;letter-spacing:1.5px;-webkit-text-stroke:2.3px #2a1f20">Element</span></p>
<p class="ln" style="top:1878.2px;font-size:52px"><span style="left:1204.0px;transform:scaleX(0.8843);letter-spacing:2.5px;-webkit-text-stroke:2.2px #000">Atomic</span> <span style="left:1374.4px;transform:scaleX(0.9447);letter-spacing:2.5px;-webkit-text-stroke:2.2px #000">Structure</span></p>
<div class="t" style="left:1389.0px;top:1642.0px;font-size:23px;transform:scaleX(1.0189);-webkit-text-stroke:1.0px #000">Dy</div>
<p class="ln" style="top:2125.1px;font-size:35px"><span style="left:156.6px;transform:scaleX(0.8033);font-weight:700">Lanthanide</span> <span style="left:315.6px;transform:scaleX(0.8352);font-weight:700">Rare</span> <span style="left:388.0px;transform:scaleX(0.8730);font-weight:700">Earth</span> <span style="left:474.6px;transform:scaleX(0.8493);font-weight:700">Minerals</span><span style="left:596.0px;transform:scaleX(0.7800);-webkit-text-stroke:0.5px #000">—The</span> <span style="left:679.8px;transform:scaleX(0.8113);-webkit-text-stroke:0.5px #000">Japanese</span> <span style="left:812.4px;transform:scaleX(0.9248);-webkit-text-stroke:0.5px #000">call</span> <span style="left:870.8px;transform:scaleX(0.9001);-webkit-text-stroke:0.5px #000">them</span> <span style="left:949.8px;transform:scaleX(0.9122);-webkit-text-stroke:0.5px #000">“the</span> <span style="left:1015.0px;transform:scaleX(0.8121);-webkit-text-stroke:0.5px #000">seeds</span> <span style="left:1100.6px;transform:scaleX(0.9073);-webkit-text-stroke:0.5px #000">of</span> <span style="left:1138.8px;transform:scaleX(0.9096);-webkit-text-stroke:0.5px #000">technology.”</span> <span style="left:1331.2px;transform:scaleX(0.8068);-webkit-text-stroke:0.5px #000">The</span> <span style="left:1387.0px;transform:scaleX(0.7824);-webkit-text-stroke:0.5px #000">US</span> <span style="left:1434.6px;transform:scaleX(0.9056);-webkit-text-stroke:0.5px #000">Department</span> <span style="left:1610.6px;transform:scaleX(0.9361);-webkit-text-stroke:0.5px #000">of</span> <span style="left:1648.2px;transform:scaleX(0.8890);-webkit-text-stroke:0.5px #000">Energy</span> <span style="left:1756.4px;transform:scaleX(0.8883);-webkit-text-stroke:0.5px #000">calls</span></p>
<p class="ln" style="top:2160.7px;font-size:35px"><span style="left:153.4px;transform:scaleX(0.9414);-webkit-text-stroke:0.5px #000">them</span> <span style="left:235.2px;transform:scaleX(0.8883);-webkit-text-stroke:0.5px #000">“technology</span> <span style="left:406.4px;transform:scaleX(0.9402);-webkit-text-stroke:0.5px #000">metals.”</span> <span style="left:533.0px;transform:scaleX(0.7969);-webkit-text-stroke:0.5px #000">These</span> <span style="left:620.0px;transform:scaleX(0.9114);-webkit-text-stroke:0.5px #000">elements</span> <span style="left:757.8px;transform:scaleX(0.8288);-webkit-text-stroke:0.5px #000">have</span> <span style="left:830.8px;transform:scaleX(0.9090);-webkit-text-stroke:0.5px #000">atomic</span> <span style="left:934.2px;transform:scaleX(0.8568);-webkit-text-stroke:0.5px #000">numbers</span> <span style="left:1060.6px;transform:scaleX(0.9737);-webkit-text-stroke:0.5px #000">57-71.</span> <span style="left:1165.6px;transform:scaleX(0.8299);-webkit-text-stroke:0.5px #000">They</span> <span style="left:1239.8px;transform:scaleX(0.8731);-webkit-text-stroke:0.5px #000">are</span> <span style="left:1295.0px;transform:scaleX(1.0301);-webkit-text-stroke:0.5px #000">vital</span> <span style="left:1368.4px;transform:scaleX(0.9825);-webkit-text-stroke:0.5px #000">to</span> <span style="left:1405.4px;transform:scaleX(0.9672);-webkit-text-stroke:0.5px #000">industry.</span> <span style="left:1538.6px;transform:scaleX(0.8261);-webkit-text-stroke:0.5px #000">They</span> <span style="left:1613.4px;transform:scaleX(0.9133);-webkit-text-stroke:0.5px #000">can</span> <span style="left:1672.2px;transform:scaleX(0.7800);-webkit-text-stroke:0.5px #000">be</span> <span style="left:1710.8px;transform:scaleX(0.7979);-webkit-text-stroke:0.5px #000">added</span> <span style="left:1798.8px;transform:scaleX(0.8929);-webkit-text-stroke:0.5px #000">to</span></p>
<p class="ln" style="top:2196.2px;font-size:35px"><span style="left:166.0px;transform:scaleX(0.9250);-webkit-text-stroke:0.5px #000">metals</span> <span style="left:272.0px;transform:scaleX(1.0289);-webkit-text-stroke:0.5px #000">to</span> <span style="left:311.4px;transform:scaleX(0.9411);-webkit-text-stroke:0.5px #000">strengthen</span> <span style="left:476.6px;transform:scaleX(0.9001);-webkit-text-stroke:0.5px #000">them</span> <span style="left:556.6px;transform:scaleX(0.9536);-webkit-text-stroke:0.5px #000">to</span> <span style="left:593.2px;transform:scaleX(0.8354);-webkit-text-stroke:0.5px #000">make</span> <span style="left:674.2px;transform:scaleX(0.9035);-webkit-text-stroke:0.5px #000">alloys</span> <span style="left:764.0px;transform:scaleX(0.8155);-webkit-text-stroke:0.5px #000">such</span> <span style="left:833.3px;transform:scaleX(0.7800);-webkit-text-stroke:0.5px #000">as</span> <span style="left:872.2px;transform:scaleX(0.9156);-webkit-text-stroke:0.5px #000">stainless</span> <span style="left:1007.0px;transform:scaleX(0.9176);-webkit-text-stroke:0.5px #000">steel,</span> <span style="left:1090.2px;transform:scaleX(0.8403);-webkit-text-stroke:0.5px #000">used</span> <span style="left:1164.2px;transform:scaleX(0.9536);-webkit-text-stroke:0.5px #000">to</span> <span style="left:1200.8px;transform:scaleX(0.8774);-webkit-text-stroke:0.5px #000">refine</span> <span style="left:1287.4px;transform:scaleX(0.9013);-webkit-text-stroke:0.5px #000">crude</span> <span style="left:1375.4px;transform:scaleX(0.9221);-webkit-text-stroke:0.5px #000">oil,</span> <span style="left:1423.8px;transform:scaleX(0.8239);-webkit-text-stroke:0.5px #000">and</span> <span style="left:1482.2px;transform:scaleX(0.8688);-webkit-text-stroke:0.5px #000">are</span> <span style="left:1534.8px;transform:scaleX(1.0260);-webkit-text-stroke:0.5px #000">crucial</span> <span style="left:1645.3px;transform:scaleX(0.7800);-webkit-text-stroke:0.5px #000">in</span> <span style="left:1672.6px;transform:scaleX(0.8967);-webkit-text-stroke:0.5px #000">producing</span></p>
<p class="ln" style="top:2231.8px;font-size:35px"><span style="left:234.8px;transform:scaleX(0.8989);-webkit-text-stroke:0.5px #000">technology—electronics,</span> <span style="left:587.2px;transform:scaleX(0.8972);-webkit-text-stroke:0.5px #000">telecommunications,</span> <span style="left:881.2px;transform:scaleX(0.8383);-webkit-text-stroke:0.5px #000">and</span> <span style="left:938.0px;transform:scaleX(0.9599);-webkit-text-stroke:0.5px #000">metal</span> <span style="left:1028.6px;transform:scaleX(0.8397);-webkit-text-stroke:0.5px #000">devices</span> <span style="left:1138.8px;transform:scaleX(0.9536);-webkit-text-stroke:0.5px #000">to</span> <span style="left:1175.4px;transform:scaleX(0.8308);-webkit-text-stroke:0.5px #000">name</span> <span style="left:1258.2px;transform:scaleX(0.8054);-webkit-text-stroke:0.5px #000">a</span> <span style="left:1285.6px;transform:scaleX(0.9256);-webkit-text-stroke:0.5px #000">few.</span> <span style="left:1351.6px;transform:scaleX(0.7800);-webkit-text-stroke:0.5px #000">They</span> <span style="left:1422.4px;transform:scaleX(0.9556);-webkit-text-stroke:0.5px #000">are</span> <span style="left:1477.8px;transform:scaleX(0.8953);-webkit-text-stroke:0.5px #000">lanthanum,</span> <span style="left:1641.2px;transform:scaleX(0.9054);-webkit-text-stroke:0.5px #000">cerium,</span></p>
<p class="ln" style="top:2267.4px;font-size:35px"><span style="left:134.0px;transform:scaleX(0.8829);-webkit-text-stroke:0.5px #000">praseodymium,</span> <span style="left:352.8px;transform:scaleX(0.8741);-webkit-text-stroke:0.5px #000">neodymium,</span> <span style="left:526.4px;transform:scaleX(0.9163);-webkit-text-stroke:0.5px #000">promethium,</span> <span style="left:712.2px;transform:scaleX(0.8894);-webkit-text-stroke:0.5px #000">samarium,</span> <span style="left:865.6px;transform:scaleX(0.8862);-webkit-text-stroke:0.5px #000">europium,</span> <span style="left:1012.2px;transform:scaleX(0.8776);-webkit-text-stroke:0.5px #000">gadolinium,</span> <span style="left:1178.8px;transform:scaleX(0.9309);-webkit-text-stroke:0.5px #000">terbium,</span> <span style="left:1304.8px;transform:scaleX(0.8908);-webkit-text-stroke:0.5px #000">dysprosium,</span> <span style="left:1480.2px;transform:scaleX(0.9051);-webkit-text-stroke:0.5px #000">holmium,</span> <span style="left:1616.2px;transform:scaleX(0.9161);-webkit-text-stroke:0.5px #000">erbium,</span> <span style="left:1732.0px;transform:scaleX(0.9234);-webkit-text-stroke:0.5px #000">thulium,</span></p>
<p class="ln" style="top:2303.2px;font-size:35px"><span style="left:687.8px;transform:scaleX(0.9649);-webkit-text-stroke:0.5px #000">ytterbium,</span> <span style="left:843.4px;transform:scaleX(0.9733);-webkit-text-stroke:0.5px #000">lutetium,</span> <span style="left:980.2px;transform:scaleX(0.8490);-webkit-text-stroke:0.5px #000">scandium</span> <span style="left:1116.6px;transform:scaleX(0.8475);-webkit-text-stroke:0.5px #000">and</span> <span style="left:1176.4px;transform:scaleX(1.0089);-webkit-text-stroke:0.5px #000">yttrium.</span></p>
<p class="ln" style="top:2399.6px;font-size:40px"><span style="left:912.2px;transform:scaleX(1.1056);font-weight:700">~</span> <span style="left:949.0px;top:8.7px;transform:scaleX(0.7001);font-weight:700;font-size:38px">4</span> <span style="left:974.6px;transform:scaleX(1.1056);font-weight:700">~</span></p>
</body>
</html>
